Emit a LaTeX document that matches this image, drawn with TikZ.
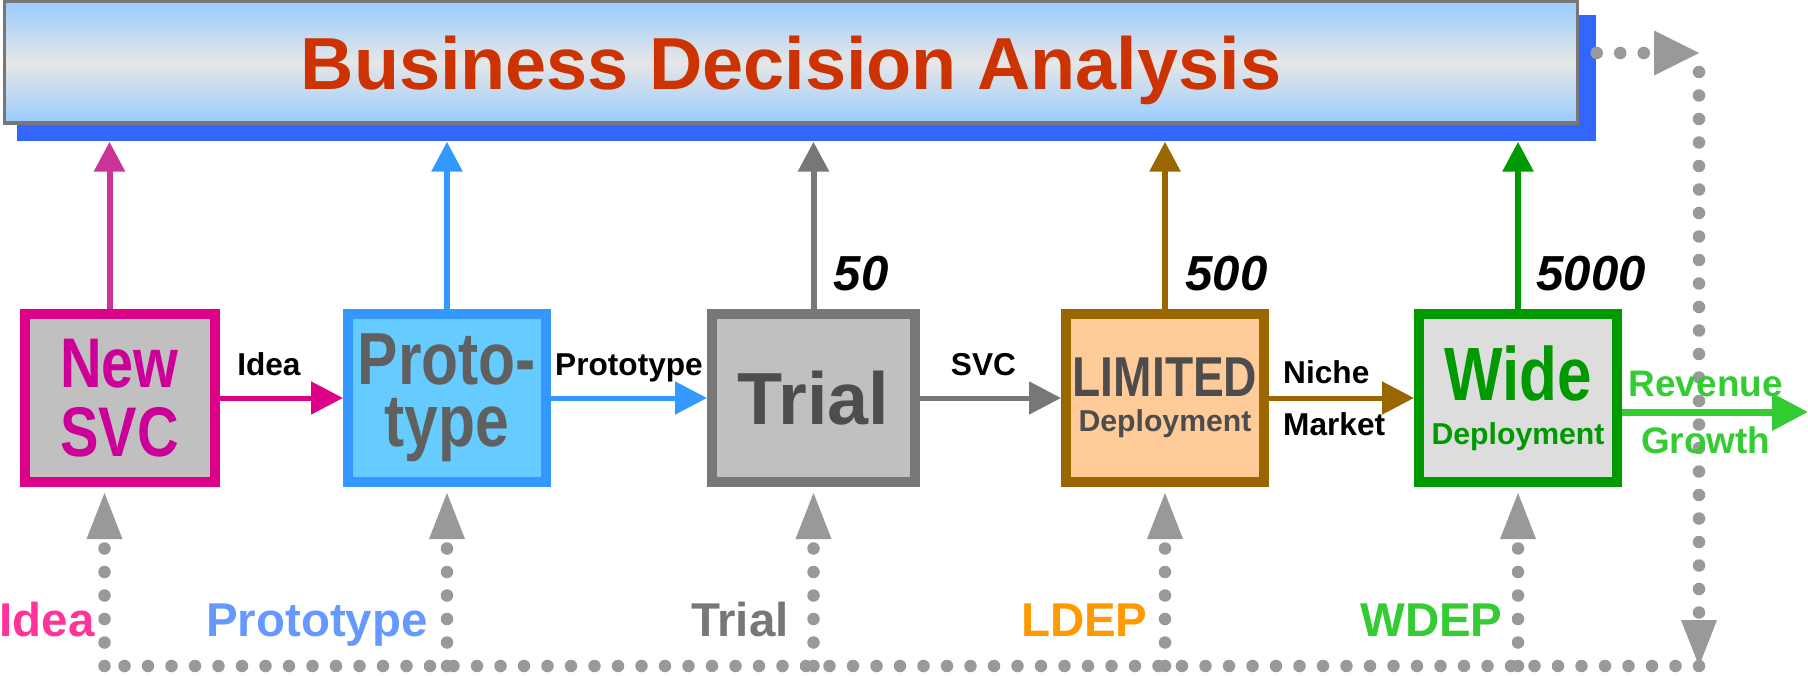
\documentclass[tikz,border=0pt]{standalone}
\usepackage{fontspec}
\setmainfont{Liberation Sans}
\newfontfamily\narrowsf[FakeStretch=0.82]{Liberation Sans}
\usepackage{tikz}
\usetikzlibrary{arrows.meta,positioning}
\usepackage{xcolor}

\definecolor{titlered}{HTML}{CC3300}
\definecolor{barblue}{HTML}{99CCFF}
\definecolor{barmid}{HTML}{E6E6E6}
\definecolor{shadeblue}{HTML}{3366FF}
\definecolor{framegray}{HTML}{777777}
\definecolor{dotgray}{HTML}{999999}
\definecolor{svcpink}{HTML}{DD0088}
\definecolor{svcup}{HTML}{CC3399}
\definecolor{svctext}{HTML}{CC0099}
\definecolor{protoblue}{HTML}{3399FF}
\definecolor{protofill}{HTML}{66CCFF}
\definecolor{boxgray}{HTML}{C0C0C0}
\definecolor{ltdbrown}{HTML}{996600}
\definecolor{ltdfill}{HTML}{FFCC99}
\definecolor{widegreen}{HTML}{009900}
\definecolor{widefill}{HTML}{DDDDDD}
\definecolor{growgreen}{HTML}{33CC33}
\definecolor{darktext}{HTML}{4D4D4D}
\definecolor{protogray}{HTML}{606060}
\definecolor{ideapink}{HTML}{FF3399}
\definecolor{protolabel}{HTML}{6699FF}
\definecolor{ldeporange}{HTML}{FF9900}

\begin{document}
\begin{tikzpicture}[
        stage/.style={rectangle, draw, line width=0.1cm, minimum width=1.98cm, minimum height=1.68cm, inner sep=0pt, align=center},
        flow/.style={line width=0.05cm, -{Triangle[length=0.32cm, width=0.32cm]}},
        upflow/.style={line width=0.06cm, -{Triangle[length=0.3cm, width=0.3cm]}},
        dots/.style={draw=dotgray, line width=0.125cm, line cap=round, dash pattern=on 0pt off 0.235cm},
        dotarrow/.style={dots, -{Triangle[length=0.46cm, width=0.36cm, line width=0pt]}},
        edgelabel/.style={text=black, font=\bfseries\fontsize{9}{10}\selectfont, text depth=0pt},
        count/.style={font=\bfseries\itshape\fontsize{14}{16}\selectfont},
        phase/.style={anchor=base east, font=\bfseries\fontsize{13.5}{15}\selectfont}
    ]

    \useasboundingbox (0,0) rectangle (18.08,-6.76);

    % Banner with its blue offset shadow
    \node[fill=shadeblue, minimum width=15.79cm, minimum height=1.26cm, inner sep=0pt] (shade) at (8.065,-0.78) {};
    \node[draw=framegray, line width=0.035cm, top color=barblue, bottom color=barblue, middle color=barmid,
          minimum width=15.73cm, minimum height=1.215cm, inner sep=0pt, text depth=0pt, text=titlered,
          font=\bfseries\fontsize{21}{24}\selectfont] (banner) at (7.91,-0.625) {Business Decision Analysis};

    % Stages of the service
    \node[stage, minimum width=1.9cm, draw=svcpink, fill=boxgray, text=svctext,
          font=\narrowsf\bfseries\fontsize{20}{19.5}\selectfont] (svc) at (1.195,-3.98) {New\\SVC};
    \node[stage, draw=protoblue, fill=protofill, text=protogray,
          font=\narrowsf\bfseries\fontsize{21}{17.5}\selectfont] (proto) at (4.47,-3.98) {Proto-\\type};
    \node[stage, minimum width=2.03cm, draw=framegray, fill=boxgray, text=darktext,
          font=\bfseries\fontsize{21}{24}\selectfont] (trial) at (8.135,-3.98) {Trial};
    \node[stage, draw=ltdbrown, fill=ltdfill, text=darktext,
          font=\narrowsf\bfseries\fontsize{16}{10}\selectfont] (ltd) at (11.65,-3.98)
          {LIMITED\\{\rmfamily\fontsize{8.6}{10}\selectfont Deployment}};
    \node[stage, draw=widegreen, fill=widefill, text=widegreen,
          font=\narrowsf\bfseries\fontsize{21.5}{12.5}\selectfont] (wide) at (15.18,-3.98)
          {Wide\\{\rmfamily\fontsize{8.6}{10}\selectfont Deployment}};

    % Volumes next to the upper arrows
    \node[count, above right=0.06cm and 0.08cm of trial.north] (n50) {50};
    \node[count, above right=0.06cm and 0.08cm of ltd.north] (n500) {500};
    \node[count, above right=0.06cm and 0.06cm of wide.north] (n5000) {5000};

    % Dotted feedback loop
    \coordinate (svcin) at ([xshift=-0.1cm]svc.north);
    \coordinate (svcout) at ([xshift=-0.15cm]svc.south);
    \coordinate (loopa) at (16.99,-0.53);
    \coordinate (loopb) at (16.99,-6.66);
    \draw[dotarrow, -{Triangle[length=0.45cm, width=0.45cm, line width=0pt]}] (shade.east |- loopa) -- (loopa);
    \draw[dotarrow] ([yshift=-0.19cm]loopa) -- (loopb);
    \draw[dots] (loopb) -- (svcout |- loopb);
    \draw[dotarrow, shorten >=0.06cm] (svcout |- loopb) -- (svcout);
    \draw[dotarrow, shorten >=0.06cm] (proto.south |- loopb) -- (proto.south);
    \draw[dotarrow, shorten >=0.06cm] (trial.south |- loopb) -- (trial.south);
    \draw[dotarrow, shorten >=0.06cm] (ltd.south |- loopb) -- (ltd.south);
    \draw[dotarrow, shorten >=0.06cm] (wide.south |- loopb) -- (wide.south);

    % Reports up to the banner
    \draw[upflow, svcup] (svcin) -- (svcin |- shade.south);
    \draw[upflow, protoblue] (proto.north) -- (proto.north |- shade.south);
    \draw[upflow, framegray] (trial.north) -- (trial.north |- shade.south);
    \draw[upflow, ltdbrown] (ltd.north) -- (ltd.north |- shade.south);
    \draw[upflow, widegreen] (wide.north) -- (wide.north |- shade.south);

    % Flow between the stages
    \coordinate (rightedge) at (18.08,-4.12);
    \draw[flow, svcpink] (svc) -- (proto) node[edgelabel, pos=0.4, above=0.08cm] {Idea};
    \draw[flow, protoblue] (proto) -- (trial) node[edgelabel, midway, above=0.08cm] {Prototype};
    \draw[flow, framegray] (trial) -- (ltd) node[edgelabel, pos=0.45, above=0.08cm] {SVC};
    \draw[flow, ltdbrown] (ltd) -- (wide)
        node[edgelabel, pos=0, above right] {Niche}
        node[edgelabel, pos=0, below right] {Market};
    \draw[growgreen, line width=0.07cm, -{Triangle[length=0.36cm, width=0.36cm]}] (wide.east |- rightedge) -- (rightedge)
        node[pos=0.45, above, font=\bfseries\fontsize{10.5}{12}\selectfont] {Revenue}
        node[pos=0.45, below, font=\bfseries\fontsize{10.5}{12}\selectfont] {Growth};

    % Phase names along the bottom
    \node[phase, text=ideapink] (pidea) at (1.07,-6.36) {Idea};
    \node[phase, text=protolabel] (pproto) at (4.4,-6.36) {Prototype};
    \node[phase, text=framegray] (ptrial) at (8.01,-6.36) {Trial};
    \node[phase, text=ldeporange] (pldep) at (11.6,-6.36) {LDEP};
    \node[phase, text=growgreen] (pwdep) at (15.15,-6.36) {WDEP};

\end{tikzpicture}
\end{document}
